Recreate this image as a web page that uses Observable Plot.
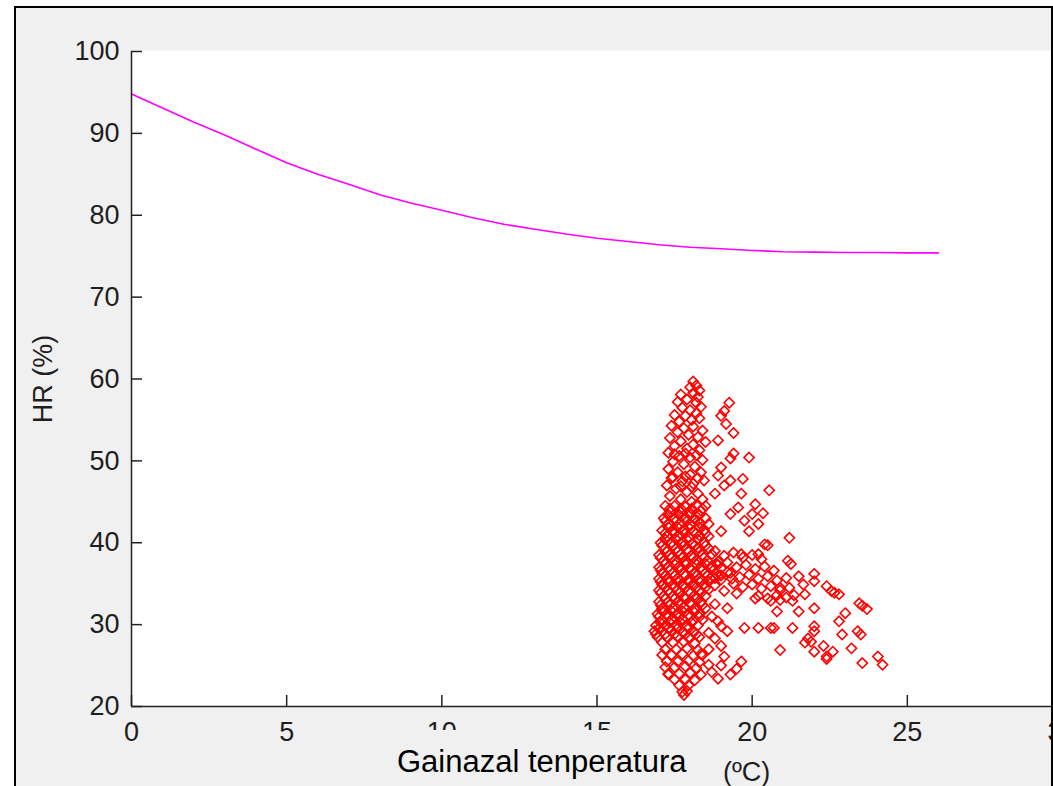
<!DOCTYPE html>
<html><head><meta charset="utf-8">
<script src="https://cdn.jsdelivr.net/npm/d3@7"></script>
<script src="https://cdn.jsdelivr.net/npm/@observablehq/plot@0.6"></script>
<style>
html,body{margin:0;padding:0;background:#fff;overflow:hidden;}
#wrap{position:relative;width:1053px;height:786px;overflow:hidden;}
#bg{position:absolute;left:14px;top:6px;width:1039px;height:780px;background:#f0f0f0;}
#chart{position:absolute;left:0;top:0;width:1053px;height:786px;overflow:hidden;}
#xlab{position:absolute;left:377px;top:730px;width:340px;height:56px;background:#f0f0f0;font-family:"Liberation Sans",Arial,sans-serif;font-size:31px;line-height:31px;padding:16px 0 0 20px;box-sizing:border-box;color:#000;white-space:nowrap;}
#xunit{position:absolute;left:723px;top:759px;font-family:"Liberation Sans",Arial,sans-serif;font-size:27px;line-height:27px;color:#1e1e1e;white-space:nowrap;}
#frame{position:absolute;left:14px;top:6px;width:1039px;height:780px;border:2px solid #000;border-bottom:none;box-sizing:border-box;pointer-events:none;}
</style></head>
<body>
<div id="wrap">
  <div id="bg"></div>
  <div id="chart"></div>
  <div id="xlab"></div>
  <div id="xunit"></div>
  <div id="frame"></div>
</div>
<script>
// ---- data ----
const xDomain = [0, 30];
const yDomain = [20, 100];
const xTicks = [0, 5, 10, 15, 20, 25, 30];
const yTicks = [20, 30, 40, 50, 60, 70, 80, 90, 100];
const xLabel = "Gainazal tenperatura";
const xUnit = "(ºC)";
const yLabel = ["HR (%)"];

// saturation curve: temperature (ºC) and HR (%)
const curveT  = [0, 1, 2, 3, 4, 5, 6, 7, 8, 9, 10, 11, 12, 13, 14, 15, 16, 17, 18, 19, 20, 21, 22, 23, 24, 25, 26];
const curveHR = [94.8, 93.1, 91.4, 89.8, 88.1, 86.4, 85.0, 83.8, 82.5, 81.5, 80.6, 79.7, 78.9, 78.3, 77.7, 77.2, 76.8, 76.4, 76.1, 75.9, 75.7, 75.55, 75.5, 75.45, 75.45, 75.4, 75.4];

// measured points [temperature, HR]
const columnTop = [
[18.1,59.7],[18.2,59.2],[18.0,59.0],[18.3,58.6],[17.7,58.1],[18.1,58.3],[18.25,57.8],[17.6,57.2],[17.9,57.5],[18.2,57.1],[18.35,56.6],[17.75,56.5],[18.0,56.2],[18.2,55.8],[17.5,55.6],[17.85,55.5],[18.3,55.2],[17.65,54.8],[18.05,55.0],
[17.4,54.3],[17.8,54.0],[18.1,54.2],[18.4,53.7],[17.6,53.5],[17.95,53.2],[18.25,52.9],[17.35,52.8],[17.7,52.4],[18.1,52.0],[18.5,52.3],[17.5,51.8],[17.9,51.5],[18.3,51.3],[17.3,51.0],[17.65,50.6],[18.0,50.4],[18.4,50.1],[17.45,49.9],[17.8,49.6],[18.15,49.3],[17.3,49.0],[17.6,48.6],[18.0,48.3],[18.35,48.6],[17.4,47.9],[17.75,47.5],[18.1,47.2],[18.45,47.6],[17.25,47.0],[17.55,46.6],[17.9,46.2],[18.25,46.0],[17.35,45.7],[17.7,45.3],[18.05,45.0],[18.4,45.3],
[17.5,50.8],[17.85,50.9],[18.2,50.7],[17.45,48.0],[17.85,48.1],[18.25,47.9],[17.7,46.9],[18.05,46.8]
];
const columnLow = [
[17.2,44.5],[17.5,44.5],[17.85,44.4],[18.2,44.6],[18.5,44.5],
[17.35,43.8],[17.7,43.8],[18.0,43.7],[18.35,43.9],
[17.15,43.0],[17.5,43.0],[17.85,43.1],[18.15,42.9],[18.5,43.0],
[17.3,42.3],[17.65,42.3],[18.0,42.2],[18.3,42.4],[18.6,42.3],
[17.1,41.5],[17.45,41.5],[17.8,41.6],[18.1,41.4],[18.45,41.5],
[17.25,40.8],[17.6,40.8],[17.95,40.7],[18.3,40.9],[18.6,40.8],
[17.05,40.0],[17.4,40.0],[17.75,40.1],[18.1,39.9],[18.45,40.0],
[17.2,39.3],[17.55,39.3],[17.9,39.2],[18.25,39.4],[18.6,39.3],
[17.0,38.5],[17.35,38.5],[17.7,38.6],[18.05,38.4],[18.4,38.5],[18.7,38.6],
[17.15,37.8],[17.5,37.8],[17.85,37.7],[18.2,37.9],[18.55,37.8],[18.9,37.7],
[17.0,37.0],[17.3,37.0],[17.65,37.1],[18.0,36.9],[18.35,37.0],[18.7,37.1],[19.0,36.9],
[17.1,36.3],[17.45,36.3],[17.8,36.2],[18.15,36.4],[18.5,36.3],[18.85,36.2],[19.2,36.4],
[17.0,35.6],[17.3,35.6],[17.6,35.7],[17.95,35.5],[18.3,35.6],[18.65,35.7],[19.0,35.5],[19.35,35.6],
[17.1,34.9],[17.45,34.9],[17.75,34.8],[18.1,35.0],[18.45,34.9],[18.8,34.8],
[17.0,34.2],[17.3,34.2],[17.6,34.3],[17.95,34.1],[18.3,34.2],[18.6,34.3],
[17.15,33.5],[17.45,33.5],[17.8,33.4],[18.15,33.6],[18.5,33.5],
[17.0,32.8],[17.3,32.8],[17.65,32.9],[18.0,32.7],[18.35,32.8],
[17.1,32.0],[17.45,32.0],[17.8,32.1],[18.15,31.9],[18.5,32.0],
[16.95,31.3],[17.25,31.3],[17.6,31.4],[17.95,31.2],[18.3,31.3],
[17.1,30.6],[17.4,30.6],[17.75,30.7],[18.1,30.5],[18.4,30.6],
[16.9,29.9],[17.2,29.9],[17.55,30.0],[17.9,29.8],[18.25,29.9],
[16.85,29.2],[17.1,29.2],[17.4,29.3],[17.75,29.1],[18.1,29.2],
[16.95,28.5],[17.25,28.5],[17.6,28.6],[17.95,28.4],[18.3,28.5],
[17.1,27.8],[17.45,27.8],[17.8,27.9],[18.15,27.7],
[17.2,27.0],[17.55,27.0],[17.9,27.1],[18.25,26.9],
[17.1,26.3],[17.4,26.3],[17.75,26.4],[18.1,26.2],[18.4,26.3],
[17.25,25.5],[17.6,25.5],[17.95,25.6],[18.3,25.4],
[17.2,24.8],[17.5,24.8],[17.85,24.9],[18.2,24.7],
[17.3,24.0],[17.65,24.0],[18.0,24.1],[18.35,23.9],
[17.5,23.3],[17.85,23.3],[18.15,23.2],
[17.65,22.6],[17.95,22.6],
[17.75,21.8],[17.9,21.9],[17.8,21.4]
];
const columnCore = [
[17.35,44.15],[17.7,44.15],[18.05,44.15],[18.4,44.15],
[17.3,43.4],[17.65,43.4],[18.0,43.4],[18.3,43.4],
[17.2,42.65],[17.55,42.65],[17.9,42.65],[18.25,42.65],
[17.3,41.9],[17.6,41.9],[17.95,41.9],[18.3,41.9],
[17.2,41.15],[17.5,41.15],[17.85,41.15],[18.2,41.15],[18.5,41.15],
[17.2,40.4],[17.55,40.4],[17.9,40.4],[18.25,40.4],
[17.1,39.65],[17.45,39.65],[17.8,39.65],[18.15,39.65],[18.5,39.65],
[17.25,38.9],[17.6,38.9],[17.95,38.9],[18.3,38.9],
[17.05,38.15],[17.4,38.15],[17.75,38.15],[18.1,38.15],[18.45,38.15],
[17.2,37.4],[17.5,37.4],[17.85,37.4],[18.2,37.4],[18.5,37.4],[18.85,37.4],
[17.05,36.65],[17.35,36.65],[17.7,36.65],[18.05,36.65],[18.4,36.65],[18.75,36.65],
[17.2,35.95],[17.5,35.95],[17.85,35.95],[18.2,35.95],[18.55,35.95],[18.9,35.95],
[17.05,35.25],[17.3,35.25],[17.6,35.25],[17.95,35.25],[18.3,35.25],[18.6,35.25],
[17.2,34.55],[17.5,34.55],[17.85,34.55],[18.2,34.55],[18.5,34.55],
[17.05,33.85],[17.35,33.85],[17.65,33.85],[18.0,33.85],[18.35,33.85],
[17.2,33.15],[17.5,33.15],[17.85,33.15],[18.2,33.15],
[17.05,32.4],[17.35,32.4],[17.7,32.4],[18.05,32.4],[18.4,32.4],
[17.1,31.65],[17.4,31.65],[17.75,31.65],[18.1,31.65],
[17.0,30.95],[17.3,30.95],[17.65,30.95],[18.0,30.95],[18.3,30.95],
[17.05,30.25],[17.35,30.25],[17.7,30.25],[18.05,30.25],
[17.0,29.55],[17.3,29.55],[17.6,29.55],[17.95,29.55],
[16.9,28.85],[17.2,28.85],[17.5,28.85],[17.85,28.85],[18.2,28.85]
];
const bandPts = [
[18.8,39.0],[19.1,38.4],[19.4,38.8],[19.7,38.2],[20.0,38.5],[20.3,38.0],
[18.9,37.3],[19.2,37.6],[19.5,37.0],[19.8,37.3],[20.1,36.8],[20.4,37.1],[20.7,36.6],
[19.0,36.0],[19.3,36.3],[19.6,35.8],[19.9,36.1],[20.2,35.6],[20.5,35.9],[20.8,35.4],[21.1,35.7],
[19.4,35.0],[19.7,34.6],[20.0,34.9],[20.3,34.4],[20.6,34.7],[20.9,34.2],[21.2,34.5],
[19.5,33.8],[20.2,33.5],[20.5,33.2],[20.8,33.6],[21.1,33.3],[21.3,32.9],[20.9,33.0],
[21.25,37.4],[21.15,37.8],[20.9,34.5],[21.35,33.6]
];
const upperTail = [
[19.26,57.1],[19.1,56.1],[19.0,55.5],[19.16,54.5],[19.4,53.4],[18.9,52.5],[19.9,50.4],[19.4,50.9],[19.3,50.3],[19.0,49.2],
[18.9,48.2],[19.7,47.8],[19.3,47.6],[20.55,46.4],[19.65,46.0],[19.1,47.0],[18.8,46.0],[20.1,44.7],[20.0,43.5],[19.55,44.3],
[19.3,43.5],[20.2,42.3],[19.75,42.7],[19.0,41.4],[19.9,41.4],[20.4,39.8],[20.35,43.6],[21.2,40.6],[20.5,39.7],[19.65,38.6],[20.2,38.6]
];
const lowerTail = [
[18.9,30.4],[19.2,32.0],[19.1,26.1],[19.65,25.5],[19.3,23.9],[18.9,23.4],[18.6,25.1],[18.35,26.4],[17.3,23.9],[18.8,35.7],
[19.1,34.1],[18.8,32.5],[20.1,33.2],[20.2,29.6],[19.75,29.6],[20.6,29.6],[19.2,29.2],[18.8,28.3],[18.6,27.0],[19.0,27.4],
[18.7,24.2],[19.5,24.6],[19.0,25.0],[18.7,31.0],[19.0,29.8],[18.6,29.0],
[21.5,35.9],[22.0,36.2],[22.0,35.3],[21.65,34.9],[21.7,33.7],[22.4,34.7],[22.55,34.1],[22.8,33.7],[22.65,33.9],
[23.45,32.6],[23.7,31.9],[23.55,32.3],[20.6,32.9],[20.8,31.6],[21.5,31.6],[22.0,32.0],[23.0,31.4],[22.8,30.4],
[20.7,29.6],[21.3,29.6],[22.0,29.8],[22.0,29.2],[23.4,29.2],[23.5,28.8],[22.9,28.8],[21.8,28.3],[21.9,27.9],[21.7,27.8],
[23.2,27.1],[22.3,27.4],[20.9,26.9],[22.0,26.7],[22.4,26.1],[22.6,26.7],[22.4,25.8],[23.55,25.3],[24.05,26.1],[24.2,25.1]
];

// ---- build ----
const curve = curveT.map((t, i) => ({t, hr: curveHR[i]}));
const scatter = [...columnTop, ...columnLow, ...columnCore, ...bandPts, ...upperTail, ...lowerTail].map(([t, hr]) => ({t, hr}));

const tickColor = "#1e1e1e";
const axisColor = "#222";
const tickLen = 11;
const plot = Plot.plot({
  width: 1053, height: 786,
  marginLeft: 131, marginRight: 0, marginTop: 51, marginBottom: 80,
  // the axes run past the right edge of the picture (30 is cut off)
  x: {domain: xDomain, range: [131, 1062]},
  y: {domain: yDomain},
  style: {background: "transparent", fontFamily: '"Liberation Sans",Arial,sans-serif', fontSize: "27px", color: tickColor, overflow: "hidden"},
  marks: [
    Plot.frame({fill: "#fff", stroke: null, insetTop: -1}),
    Plot.line(curve, {x: "t", y: "hr", stroke: "#ff00ff", strokeWidth: 1.6}),
    Plot.dot(scatter, {x: "t", y: "hr", symbol: "diamond2", r: 4.6, stroke: "#ff0000", strokeWidth: 1.6, fill: "none"}),
    Plot.ruleX([xDomain[0]], {stroke: axisColor, strokeWidth: 1.5}),
    Plot.ruleY([yDomain[0]], {stroke: axisColor, strokeWidth: 1.5}),
    // inward-pointing tick marks
    Plot.axisX({ticks: xTicks, tickSize: tickLen, dy: -tickLen, tickFormat: () => "", label: null, stroke: axisColor, strokeWidth: 1.5}),
    Plot.axisY({ticks: yTicks, tickSize: tickLen, dx: tickLen, tickFormat: () => "", label: null, stroke: axisColor, strokeWidth: 1.5}),
    // tick labels
    Plot.axisX({ticks: xTicks, tickSize: 0, tickPadding: 15, label: null}),
    Plot.axisY({ticks: yTicks, tickSize: 0, tickPadding: 12, label: null}),
    Plot.text(yLabel, {frameAnchor: "left", dx: -88, rotate: -90, textAnchor: "middle", text: d => d, fill: tickColor})
  ]
});
document.getElementById("chart").appendChild(plot);
document.getElementById("xlab").textContent = xLabel;
document.getElementById("xunit").textContent = xUnit;
</script>
</body></html>
